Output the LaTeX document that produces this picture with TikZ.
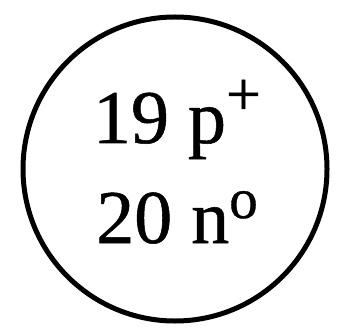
\documentclass[tikz,border=0pt]{standalone}
\usepackage{fontspec}
\setmainfont{Liberation Serif}[FakeBold=0.7]
\usepackage{tikz}
\usetikzlibrary{positioning}

\begin{document}
\begin{tikzpicture}[
  x=1pt, y=1pt,
  atom/.style={draw, circle, line width=5pt, minimum size=304pt, inner sep=0pt},
  count/.style={font=\fontsize{76}{100}\selectfont, inner sep=0pt, anchor=base},
]
\useasboundingbox (0,0) rectangle (347,332);
\node[atom] (nucleus) at (175,163) {};

\node[count] (protons)  at (177,189)
  {19 p\raisebox{28pt}{\fontsize{62}{62}\selectfont +}};
\node[count] (neutrons) at (177,89)
  {20 n\raisebox{25pt}{\fontsize{57}{57}\selectfont o}};
\end{tikzpicture}
\end{document}
